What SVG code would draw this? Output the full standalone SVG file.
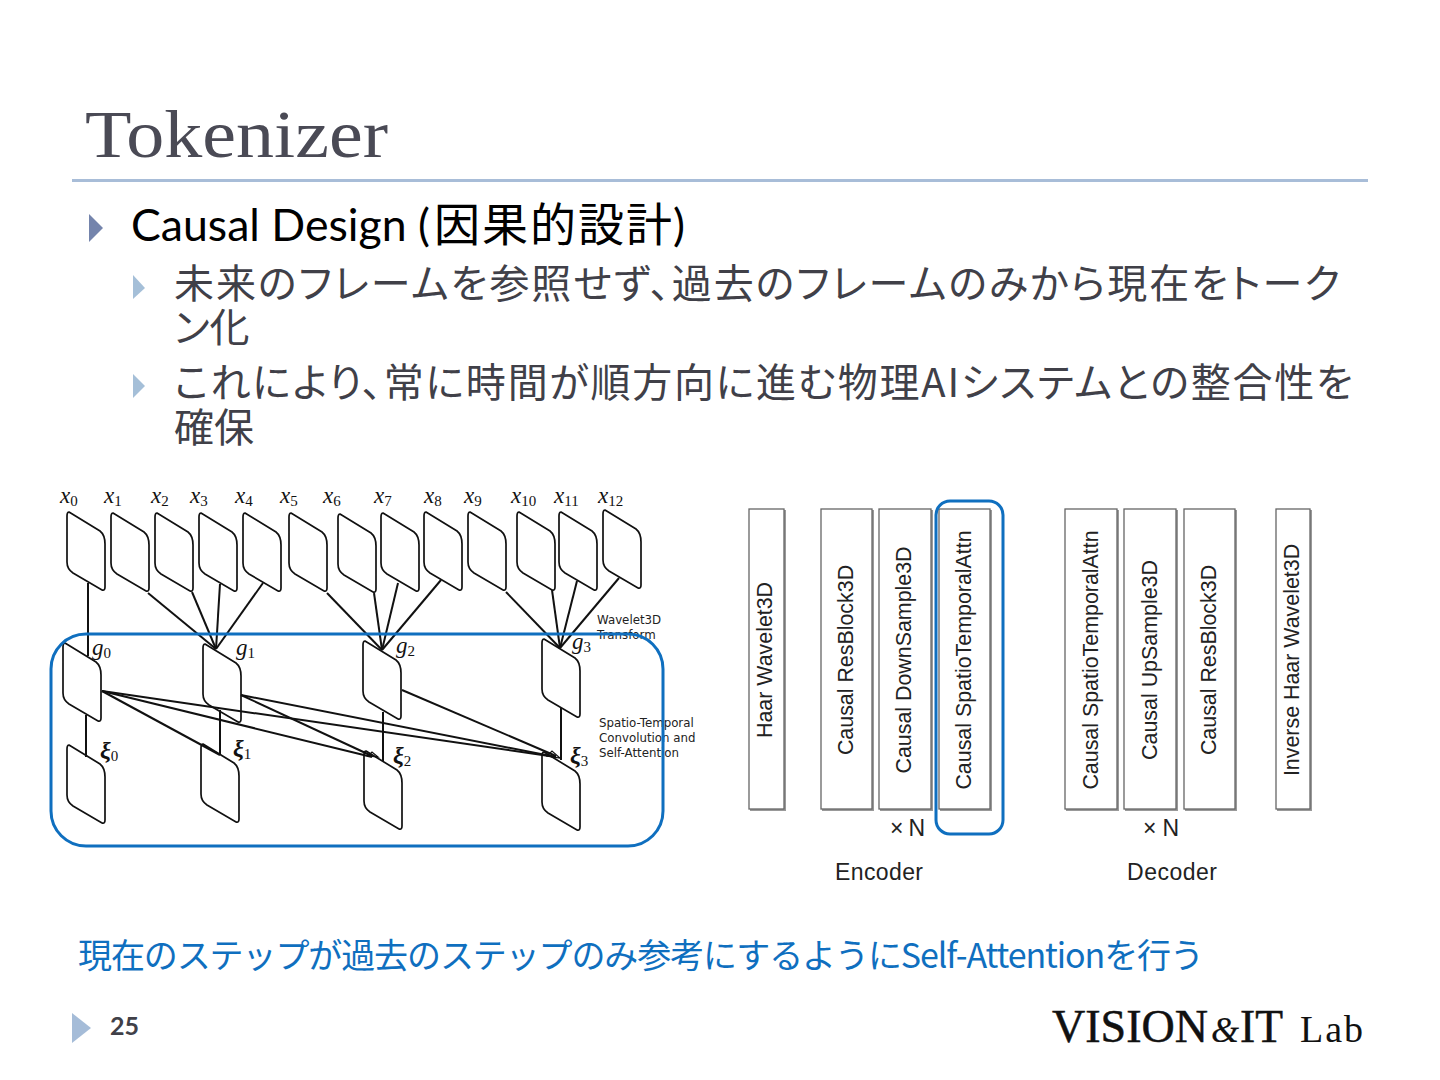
<svg xmlns="http://www.w3.org/2000/svg" xmlns:xlink="http://www.w3.org/1999/xlink" width="1440" height="1080" viewBox="0 0 1440 1080">
<style>
.title{font-family:"Liberation Serif","Noto Sans CJK JP",serif;font-size:68px;fill:#4a4a55}
.l1{font-family:Lato,"Noto Sans CJK JP",sans-serif;font-size:45px;fill:#000}
.l1c{font-family:"Noto Sans CJK JP",sans-serif;font-size:46px;fill:#000}
.l2{font-family:"Noto Sans CJK JP",Lato,sans-serif;font-size:40px;fill:#404048;font-feature-settings:"palt"}
.note{font-family:"Noto Sans CJK JP",Lato,sans-serif;font-size:34px;fill:#0f6fbf}
.num{font-family:Lato,sans-serif;font-size:25px;fill:#404048;font-weight:700}
.logo{font-family:"Liberation Serif",serif;fill:#111;stroke:#111;stroke-width:.5}
.m{font-family:"Liberation Serif",serif;font-style:italic;font-size:23px;fill:#111}
.m tspan{font-style:normal;font-size:15px}
.xi{font-family:"Liberation Serif",serif;font-style:italic;font-weight:700;font-size:24px;fill:#111}
.xi tspan{font-style:normal;font-weight:400;font-size:15px}
.small{font-family:"DejaVu Sans",sans-serif;font-size:11.8px;fill:#222}
.v{font-family:"Liberation Sans",sans-serif;font-size:21.4px;fill:#222;text-anchor:middle}
.cap{font-family:"Liberation Sans",sans-serif;font-size:23px;fill:#222}
.block{fill:#fff;stroke:#666;stroke-width:1.3}
.shade{fill:none;stroke:#999;stroke-width:2}
.hl{fill:none;stroke:#0f6fbf;stroke-width:3}
.c line{stroke:#111;stroke-width:2}
.frame{fill:#fff;stroke:#111;stroke-width:1.7}
.tip{fill:none;stroke:#111;stroke-width:1.2}
</style>
<defs>
<path id="f" class="frame" d="M2,0 L33,19 Q38,23 38,32 L38,75 Q38,79 35,78 L6,61 Q0,57 0,50 L0,4 Q0,0 2,0 Z"/>
</defs>
<rect width="1440" height="1080" fill="#fff"/>
<text class="title" x="85" y="157" textLength="303" lengthAdjust="spacingAndGlyphs">Tokenizer</text>
<rect x="72" y="179" width="1296" height="3" fill="#a8bdd8"/>
<polygon points="89,214 103,228 89,242" fill="#7484ac"/>
<text class="l1" x="131" y="241" textLength="299" lengthAdjust="spacingAndGlyphs">Causal Design (</text>
<text class="l1c" x="434" y="241" textLength="238">因果的設計</text>
<text class="l1" x="673" y="241">)</text>
<polygon points="133,275 145,288 133,299" fill="#a5bfd8"/>
<text class="l2" x="174" y="298" textLength="1166">未来のフレームを参照せず、過去のフレームのみから現在をトーク</text>
<text class="l2" x="174" y="342">ン化</text>
<polygon points="133,374 145,386 133,398" fill="#a5bfd8"/>
<text class="l2" x="174" y="397" textLength="1179">これにより、常に時間が順方向に進む物理AIシステムとの整合性を</text>
<text class="l2" x="174" y="442">確保</text>

<g id="g-x0"><use xlink:href="#f" x="67" y="512"/></g>
<g id="g-x1"><use xlink:href="#f" x="111" y="513"/></g>
<g id="g-x2"><use xlink:href="#f" x="155" y="513"/></g>
<g id="g-x3"><use xlink:href="#f" x="199" y="513"/></g>
<g id="g-x4"><use xlink:href="#f" x="243" y="513"/></g>
<g id="g-x5"><use xlink:href="#f" x="289" y="513"/></g>
<g id="g-x6"><use xlink:href="#f" x="338" y="514"/></g>
<g id="g-x7"><use xlink:href="#f" x="381" y="513"/></g>
<g id="g-x8"><use xlink:href="#f" x="424" y="512"/></g>
<g id="g-x9"><use xlink:href="#f" x="468" y="512"/></g>
<g id="g-x10"><use xlink:href="#f" x="517" y="512"/></g>
<g id="g-x11"><use xlink:href="#f" x="559" y="512"/></g>
<g id="g-x12"><use xlink:href="#f" x="603" y="510"/></g>
<g id="g-g0"><use xlink:href="#f" x="63" y="643"/></g>
<g id="g-g1"><use xlink:href="#f" x="203" y="644"/></g>
<g id="g-g2"><use xlink:href="#f" x="363" y="641"/></g>
<g id="g-g3"><use xlink:href="#f" x="542" y="639"/></g>
<g id="g-xi0"><use xlink:href="#f" x="67" y="745"/></g>
<g id="g-xi1"><use xlink:href="#f" x="201" y="744"/></g>
<g id="g-xi2"><use xlink:href="#f" x="364" y="751"/></g>
<g id="g-xi3"><use xlink:href="#f" x="542" y="752"/></g>
<g id="connectors" class="c">
<line x1="88" y1="583" x2="88" y2="656"/>
<line x1="148" y1="593" x2="216" y2="649"/><line x1="192" y1="592" x2="216" y2="649"/><line x1="220" y1="584" x2="216" y2="649"/><line x1="263" y1="583" x2="216" y2="649"/>
<line x1="327" y1="593" x2="382" y2="650"/><line x1="374" y1="593" x2="382" y2="650"/><line x1="398" y1="583" x2="382" y2="650"/><line x1="441" y1="580" x2="382" y2="650"/>
<line x1="506" y1="592" x2="560" y2="648"/><line x1="552" y1="590" x2="560" y2="648"/><line x1="577" y1="581" x2="560" y2="648"/><line x1="619" y1="578" x2="560" y2="648"/>
<line x1="86" y1="715" x2="86" y2="757"/><line x1="220" y1="710" x2="220" y2="755"/><line x1="383" y1="712" x2="383" y2="761"/><line x1="561" y1="708" x2="561" y2="760"/>
<line x1="102" y1="691" x2="220" y2="755"/><line x1="102" y1="691" x2="372" y2="757"/><line x1="102" y1="691" x2="556" y2="757"/>
<line x1="241" y1="695" x2="372" y2="756"/><line x1="241" y1="695" x2="556" y2="757"/>
<line x1="402" y1="690" x2="556" y2="756"/>
<path class="tip" d="M368,756 L372,752 L378,757 Z M547,756 L552,751 L560,758 Z"/>
</g>
<g id="math">
<text class="m" x="60" y="503">x<tspan dy="3">0</tspan></text><text class="m" x="104" y="503">x<tspan dy="3">1</tspan></text><text class="m" x="151" y="503">x<tspan dy="3">2</tspan></text><text class="m" x="190" y="503">x<tspan dy="3">3</tspan></text><text class="m" x="235" y="503">x<tspan dy="3">4</tspan></text><text class="m" x="280" y="503">x<tspan dy="3">5</tspan></text><text class="m" x="323" y="503">x<tspan dy="3">6</tspan></text><text class="m" x="374" y="503">x<tspan dy="3">7</tspan></text><text class="m" x="424" y="503">x<tspan dy="3">8</tspan></text><text class="m" x="464" y="503">x<tspan dy="3">9</tspan></text><text class="m" x="511" y="503">x<tspan dy="3">10</tspan></text><text class="m" x="554" y="503">x<tspan dy="3">11</tspan></text><text class="m" x="598" y="503">x<tspan dy="3">12</tspan></text>
<text class="m" x="92" y="655">g<tspan dy="3">0</tspan></text><text class="m" x="236" y="655">g<tspan dy="3">1</tspan></text><text class="m" x="396" y="653">g<tspan dy="3">2</tspan></text><text class="m" x="572" y="649">g<tspan dy="3">3</tspan></text>
<text class="xi" x="100" y="758">ξ<tspan dy="3">0</tspan></text><text class="xi" x="233" y="756">ξ<tspan dy="3">1</tspan></text><text class="xi" x="393" y="763">ξ<tspan dy="3">2</tspan></text><text class="xi" x="570" y="763">ξ<tspan dy="3">3</tspan></text>
</g>
<text class="small" x="597" y="624">Wavelet3D</text>
<text class="small" x="597" y="639">Transform</text>
<text class="small" x="599" y="727">Spatio-Temporal</text>
<text class="small" x="599" y="742">Convolution and</text>
<text class="small" x="599" y="757">Self-Attention</text>
<rect class="hl" x="51" y="634" width="612" height="212" rx="35"/>

<g id="n-haar"><path class="shade" d="M785,510V810H750"/><rect class="block" x="749" y="509" width="35" height="300"/><text class="v" transform="translate(772,660) rotate(-90)">Haar Wavelet3D</text></g>
<g id="n-res"><path class="shade" d="M873,510V810H822"/><rect class="block" x="821" y="509" width="51" height="300"/><text class="v" transform="translate(853,660) rotate(-90)">Causal ResBlock3D</text></g>
<g id="n-down"><path class="shade" d="M932,510V810H880"/><rect class="block" x="879" y="509" width="52" height="300"/><text class="v" transform="translate(911,660) rotate(-90)">Causal DownSample3D</text></g>
<g id="n-attn"><path class="shade" d="M991,510V810H940"/><rect class="block" x="939" y="509" width="51" height="300"/><text class="v" transform="translate(971,660) rotate(-90)">Causal SpatioTemporalAttn</text></g>
<g id="n-dattn"><path class="shade" d="M1118,510V810H1066"/><rect class="block" x="1065" y="509" width="52" height="300"/><text class="v" transform="translate(1098,660) rotate(-90)">Causal SpatioTemporalAttn</text></g>
<g id="n-up"><path class="shade" d="M1177,510V810H1125"/><rect class="block" x="1124" y="509" width="52" height="300"/><text class="v" transform="translate(1157,660) rotate(-90)">Causal UpSample3D</text></g>
<g id="n-dres"><path class="shade" d="M1236,510V810H1185"/><rect class="block" x="1184" y="509" width="51" height="300"/><text class="v" transform="translate(1216,660) rotate(-90)">Causal ResBlock3D</text></g>
<g id="n-inv"><path class="shade" d="M1311,510V810H1277"/><rect class="block" x="1276" y="509" width="34" height="300"/><text class="v" transform="translate(1299,660) rotate(-90)">Inverse Haar Wavelet3D</text></g>
<rect class="hl" x="936" y="501" width="67" height="333" rx="14"/>
<text class="cap" x="890" y="836" textLength="35">× N</text>
<text class="cap" x="1143" y="836" textLength="36">× N</text>
<text class="cap" x="835" y="880" textLength="88">Encoder</text>
<text class="cap" x="1127" y="880" textLength="90">Decoder</text>

<text class="note" x="78" y="968" textLength="1126">現在のステップが過去のステップのみ参考にするようにSelf-Attentionを行う</text>
<polygon points="72,1013 91,1028 72,1043" fill="#a5bcd8"/>
<text class="num" x="110" y="1035">25</text>
<text class="logo" x="1052" y="1042" font-size="47" textLength="156" lengthAdjust="spacingAndGlyphs">VISION</text>
<text class="logo" x="1211" y="1042" font-size="36" font-style="italic" style="stroke-width:.2">&amp;</text>
<text class="logo" x="1240" y="1042" font-size="47" textLength="43" lengthAdjust="spacingAndGlyphs">IT</text>
<text class="logo" x="1300" y="1042" font-size="38" textLength="63" style="stroke-width:0">Lab</text>
</svg>
